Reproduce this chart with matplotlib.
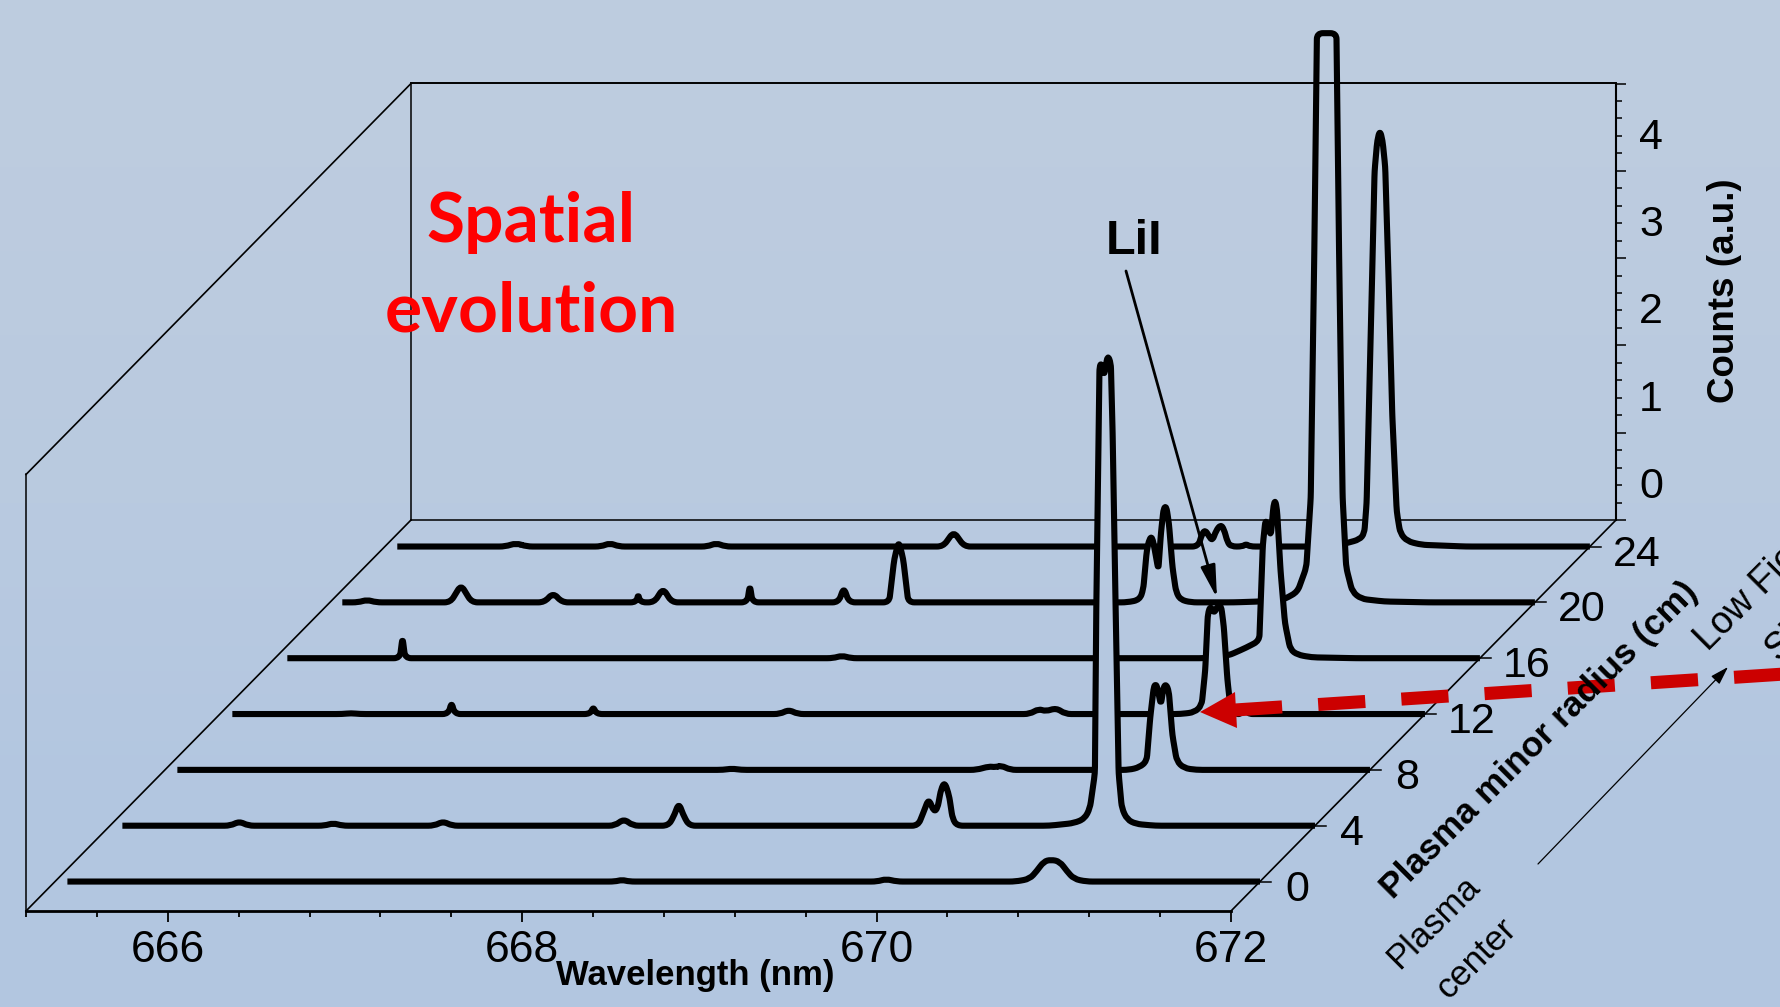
"""Waterfall of Li spectra versus plasma minor radius, drawn as a fake-3D box."""
import matplotlib
matplotlib.use("Agg")
import matplotlib.pyplot as plt
import numpy as np
from matplotlib.patches import PathPatch, Polygon
from matplotlib.path import Path
from matplotlib.ticker import MultipleLocator
from matplotlib.transforms import Affine2D, IdentityTransform

W, H = 1781, 1007

# spectra, one wavelength (nm) / counts pair per radius
wave_r0 = [665.27, 668.36, 668.40, 668.44, 669.84, 669.89, 669.95, 670.62, 670.70, 670.74, 670.78, 670.82,
           670.87, 670.91, 670.95, 671.02, 672.0]
counts_r0 = [0, 0, .02, 0, 0, .03, 0, 0, .03, .12, .23, .25, .23, .12, .03, 0, 0]

wave_r4 = [665.27, 665.88, 665.93, 665.98, 666.41, 666.46, 666.51, 667.03, 667.08, 667.13, 668.05, 668.10,
           668.15, 668.35, 668.38, 668.41, 668.44, 668.47, 669.76, 669.79, 669.82, 669.85, 669.87, 669.89,
           669.91, 669.935, 669.955, 669.98, 670.5, 670.64, 670.70, 670.73, 670.758, 670.766, 670.784, 670.795,
           670.81, 670.83, 670.848, 670.858, 670.875, 670.892, 670.91, 670.94, 670.99, 671.1, 672.0]
counts_r4 = [0, 0, .05, 0, 0, .03, 0, 0, .05, 0, 0, .08, 0, 0, .1, .26, .1, 0, 0, .15, .31, .16, .2, .42,
             .5, .35, .08, 0, 0, .03, .08, .2, .6, 2.5, 5.26, 5.3, 5.15, 5.39, 5.3, 4.5, 2.5, .6, .2, .07, .02, 0, 0]

wave_r8 = [665.27, 668.35, 668.40, 668.45, 669.78, 669.85, 669.885, 669.92, 669.97, 670.64, 670.70, 670.74,
           670.76, 670.78, 670.79, 670.80, 670.82, 670.835, 670.85, 670.865, 670.885, 670.91, 670.95, 671.02, 672.0]
counts_r8 = [0, 0, .015, 0, 0, .04, .03, .05, 0, 0, .03, .1, .6, .95, .98, .95, .74, .95, .98, .9, .4, .1, .02, 0, 0]

wave_r12 = [665.27, 665.89, 665.94, 665.99, 666.49, 666.507, 666.524, 667.29, 667.307, 667.324, 668.36, 668.41,
            668.46, 669.77, 669.82, 669.86, 669.92, 669.97, 670.62, 670.70, 670.74, 670.76, 670.775, 670.79,
            670.81, 670.83, 670.85, 670.865, 670.885, 670.90, 670.93, 670.965, 670.98, 670.995, 672.0]
counts_r12 = [0, 0, .01, 0, 0, .14, 0, 0, .085, 0, 0, .05, 0, 0, .06, .03, .07, 0, 0, .02, .1, .5, 1.15, 1.24,
              1.15, 1.24, 1.24, 1.0, .4, .12, 0, 0, .12, 0, 0]

wave_r16 = [665.27, 665.905, 665.92, 665.935, 668.35, 668.40, 668.45, 670.45, 670.58, 670.68, 670.755, 670.775,
            670.79, 670.805, 670.82, 670.835, 670.845, 670.855, 670.875, 670.90, 670.93, 670.97, 671.05, 671.3, 672.0]
counts_r16 = [0, 0, .24, 0, 0, .03, 0, 0, .03, .12, .2, 1.3, 1.59, 1.5, 1.4, 1.75, 1.81, 1.7, 1.0, .4, .1, .04,
              .01, 0, 0]

wave_r20 = [665.27, 665.36, 665.41, 665.46, 665.88, 665.94, 666.0, 666.41, 666.46, 666.51, 666.93, 666.94,
            666.95, 667.03, 667.08, 667.13, 667.555, 667.57, 667.585, 668.07, 668.10, 668.13, 668.356, 668.385,
            668.41, 668.435, 668.464, 669.70, 669.77, 669.79, 669.81, 669.825, 669.84, 669.855, 669.875, 669.89,
            669.905, 669.92, 669.935, 669.955, 669.975, 670.0, 670.06, 670.30, 670.45, 670.58, 670.66, 670.71,
            670.735, 670.755, 670.77, 670.88, 670.895, 670.915, 670.935, 670.97, 671.02, 671.15, 671.4, 672.0]
counts_r20 = [0, 0, .03, 0, 0, .2, 0, 0, .11, 0, 0, .1, 0, 0, .16, 0, 0, .2, 0, 0, .17, 0, 0, .5, .7, .5, 0,
              0, .03, .15, .6, .73, .75, .6, .37, .8, 1.08, 1.10, .9, .4, .12, .03, 0, 0, .01, .03, .12, .4,
              1.2, 4, 6.52, 6.52, 4, 1.2, .4, .12, .04, .01, 0, 0]

wave_r24 = [665.27, 665.88, 665.94, 666.0, 666.42, 666.47, 666.52, 667.02, 667.07, 667.12, 668.35, 668.41,
            668.47, 669.79, 669.81, 669.829, 669.85, 669.87, 669.89, 669.916, 669.935, 669.955, 669.975, 670.04,
            670.06, 670.08, 670.45, 670.61, 670.70, 670.727, 670.74, 670.752, 670.77, 670.785, 670.80, 670.815,
            670.83, 670.845, 670.865, 670.885, 670.91, 670.93, 670.97, 671.05, 671.3, 672.0]
counts_r24 = [0, 0, .04, 0, 0, .04, 0, 0, .04, 0, 0, .17, 0, 0, .14, .19, .12, .065, .18, .25, .2, .05, 0, 0,
              .03, 0, 0, .03, .08, .15, .5, 1.5, 3, 4.3, 4.65, 4.77, 4.65, 4.35, 3, 1.5, .4, .15, .06, .02, 0, 0]

radii = [24, 20, 16, 12, 8, 4, 0]  # back to front
waves = [wave_r24, wave_r20, wave_r16, wave_r12, wave_r8, wave_r4, wave_r0]
counts = [counts_r24, counts_r20, counts_r16, counts_r12, counts_r8, counts_r4, counts_r0]
radius_ticks = [0, 4, 8, 12, 16, 20, 24]

# box layout, in full-size pixels
BOX_L, BOX_R, BOX_BOTTOM, BOX_HEIGHT = 26, 1231, 911, 436.5
DEPTH_X, DEPTH_Y = 385, 391
R_FRONT, R_BACK = -2.11, 25.9

plt.rcParams["font.family"] = ["Liberation Sans", "DejaVu Sans"]
fig = plt.figure(figsize=(W / 100, H / 100), dpi=100)

grad = np.array([[[189, 204, 223]], [[185, 202, 224]], [[178, 198, 224]]], dtype=np.uint8)


def box_rect(shift_x=0, shift_y=0):
    return [(BOX_L + shift_x) / W, (H - BOX_BOTTOM + shift_y) / H, (BOX_R - BOX_L) / W, BOX_HEIGHT / H]


def depth(radius):
    f = (radius - R_FRONT) / (R_BACK - R_FRONT)
    return Affine2D().translate(DEPTH_X * f, DEPTH_Y * f)


def rounded_path(pts, reach=6.0):
    """Polyline through pts (display pixels) with its corners rounded, like the smoothed traces."""
    verts, codes = [pts[0]], [Path.MOVETO]
    for prev, p, nxt in zip(pts[:-2], pts[1:-1], pts[2:]):
        d1, d2 = np.hypot(*(p - prev)), np.hypot(*(nxt - p))
        a = p + (prev - p) * min(reach, d1 / 2) / d1
        b = p + (nxt - p) * min(reach, d2 / 2) / d2
        verts += [a, p, b]
        codes += [Path.LINETO, Path.CURVE3, Path.CURVE3]
    verts.append(pts[-1])
    codes.append(Path.LINETO)
    return Path(verts, codes)


bg = fig.add_axes([0, 0, 1, 1], zorder=0)
bg.imshow(grad, aspect="auto", interpolation="bilinear", extent=[0, 1, 0, 1])
bg.axis("off")

# back wall carries the counts axis
back = fig.add_axes(box_rect(DEPTH_X, DEPTH_Y), zorder=1, facecolor="none")
back.set_xlim(665.2, 672)
back.set_ylim(0, 5)
back.set_xticks([])
back.yaxis.tick_right()
back.yaxis.set_major_locator(MultipleLocator(1))
back.yaxis.set_minor_locator(MultipleLocator(0.2))
back.tick_params(axis="y", which="major", length=7.5, width=1.1, labelsize=31, pad=9)
back.tick_params(axis="y", which="minor", length=4, width=1.1)
for sp in back.spines.values():
    sp.set_linewidth(1.1)
back.spines["top"].set_visible(False)
back.spines["right"].set_linewidth(1.5)
for lab, val in zip(back.get_yticklabels(), back.get_yticks()):
    lab.set_transform(lab.get_transform() + Affine2D().translate(0, 37.5))
    lab.set_visible(val < 5)

# front plane carries the wavelength axis and, shifted, all the spectra
ax = fig.add_axes(box_rect(), zorder=2, facecolor="none")
ax.set_autoscale_on(False)
ax.set_xlim(665.2, 672)
ax.set_ylim(0, 5)
ax.set_yticks([])
ax.xaxis.set_major_locator(MultipleLocator(2))
ax.xaxis.set_minor_locator(MultipleLocator(0.4))
ax.tick_params(axis="x", which="major", length=8, width=1.3, labelsize=32, pad=6)
ax.tick_params(axis="x", which="minor", length=4.5, width=1.3)
for name in ("top", "left", "right"):
    ax.spines[name].set_visible(False)
ax.spines["bottom"].set_linewidth(2)

full_back = ax.transData + depth(R_BACK)
ax.plot([665.2, 665.2], [0, 5], color="k", lw=1.1, clip_on=False)
px = ax.transData.transform([(665.2, 0), (665.2, 5), (672, 0)])
for (x0, y0) in px:
    ax.plot([x0, x0 + DEPTH_X], [y0, y0 + DEPTH_Y], color="k", lw=1.2, clip_on=False, transform=None)

for r in radius_ticks:
    tr = ax.transData + depth(r)
    ax.plot([672, 672.06], [0, 0], color="k", lw=1.1, clip_on=False, transform=tr, zorder=50)
    ax.annotate(str(r), xy=(672, 0), xycoords=tr, xytext=(47 if r > 9 else 37, -8), textcoords="offset pixels",
                ha="center", va="center", fontsize=31, annotation_clip=False)

for i, (r, w, z) in enumerate(zip(radii, waves, counts)):
    tr = ax.transData + depth(r)
    pts_data = np.column_stack([w, z])
    poly = Polygon(pts_data, closed=True, facecolor="none", edgecolor="none", transform=tr)
    ax.add_patch(poly)
    im = ax.imshow(grad, aspect="auto", interpolation="bilinear", extent=[0, 1, 0, 1],
                   transform=fig.transFigure, zorder=3 + 2 * i)
    im.set_clip_box(fig.bbox)
    im.set_clip_path(poly)
    ax.add_patch(PathPatch(rounded_path(tr.transform(pts_data)), facecolor="none", edgecolor="k", lw=4.4,
                           joinstyle="round", capstyle="butt", clip_on=False, transform=IdentityTransform(),
                           zorder=4 + 2 * i))

ax.set_xlim(665.2, 672)
ax.set_ylim(0, 5)
# upper edge of the back wall shows through the filled peaks
ax.plot([665.2, 672], [5, 5], color="k", lw=1.4, clip_on=False, transform=full_back, zorder=30)

# overlay in image pixels for labels and annotations
ov = fig.add_axes([0, 0, 1, 1], zorder=3, facecolor="none")
ov.set_xlim(0, W)
ov.set_ylim(H, 0)
ov.axis("off")

ov.text(695, 975, "Wavelength (nm)", fontsize=25, fontweight="bold", ha="center", va="center")
ov.text(1725, 291, "Counts (a.u.)", fontsize=26.5, fontweight="bold", rotation=90, ha="center", va="center")
for x, y, txt, weight, size in [(1393, 900, "Plasma minor radius (cm)", "bold", 25.5),
                                (1399, 970, "Plasma", "normal", 25), (1449, 1000, "center", "normal", 25.5),
                                (1708, 652, "Low Field", "normal", 27), (1778, 662, "Side", "normal", 27)]:
    ov.text(x, y, txt, fontsize=size, fontweight=weight, rotation=45, rotation_mode="anchor", ha="left", va="baseline")
ov.text(1106, 254, "LiI", fontsize=35, fontweight="bold", ha="left", va="baseline")
ov.text(531, 242, "Spatial", fontsize=50, fontweight="bold", color="#ff0000", family="Lato", ha="center", va="baseline")
ov.text(531, 332, "evolution", fontsize=50, fontweight="bold", color="#ff0000", family="Lato", ha="center", va="baseline")

ov.annotate("", xy=(1217, 598), xytext=(1126, 271),
            arrowprops=dict(arrowstyle="-|>,head_length=1.4,head_width=0.32", color="k", lw=2.0, shrinkA=0, shrinkB=0,
                            mutation_scale=14))
ov.annotate("", xy=(1728, 667), xytext=(1538, 864),
            arrowprops=dict(arrowstyle="-|>,head_length=0.8,head_width=0.25", color="k", lw=0.9, shrinkA=0, shrinkB=0,
                            mutation_scale=14))
ov.plot([1235, 1800], [710, 673], color="#cc0000", lw=9.4, linestyle=(0, (47 / 13, 36 / 13)), dash_capstyle="butt")
ov.add_patch(Polygon([(1200, 712), (1235, 692), (1237, 728)], closed=True, facecolor="#cc0000", edgecolor="none"))

fig.savefig("out.png", dpi=100)
